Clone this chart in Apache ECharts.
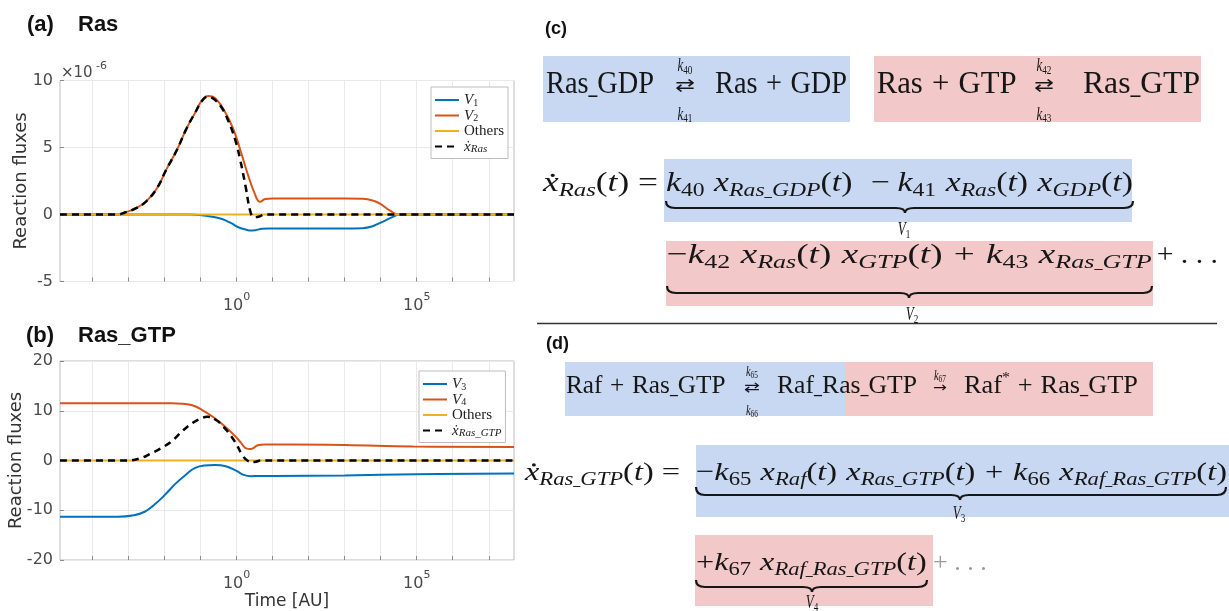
<!DOCTYPE html>
<html><head><meta charset="utf-8">
<script src="https://cdn.jsdelivr.net/npm/echarts@6/dist/echarts.min.js"></script>
<style>html,body{margin:0;padding:0;background:#fff}#c{width:1229px;height:611px}</style>
</head><body><div id="c"></div>
<script>
// ================= DATA (time given as log10 of Time [AU]) =================
const LOG_T_MIN = -4.9, LOG_T_MAX = 7.7;
const DECADES = [-4, -3, -2, -1, 0, 1, 2, 3, 4, 5, 6, 7];
const LABELED_DECADES = [0, 5];

// Panel (a) Ras, values in units of 1e-6
const A_T_V1 = [-4.9, -1.3, -0.9, -0.6, -0.4, -0.15, 0.05, 0.25, 0.4, 0.55, 0.7, 0.9, 2.0, 3.0, 3.5, 3.75, 4.0, 4.2, 4.35, 4.5, 7.7];
const A_V1   = [0, 0, -0.07, -0.2, -0.34, -0.65, -0.95, -1.12, -1.2, -1.15, -1.07, -1.04, -1.04, -1.04, -1.02, -0.9, -0.6, -0.35, -0.16, 0, 0];
const A_T_V2 = [-4.9, -3.3, -3.1, -2.8, -2.5, -2.2, -1.95, -1.65, -1.4, -1.15, -0.95, -0.78, -0.6, -0.35, -0.1, 0.1, 0.3, 0.5, 0.65, 0.8, 1.0, 2.0, 3.0, 3.5, 3.8, 4.0, 4.25, 4.5, 7.7];
const A_V2   = [0, 0, 0.15, 0.45, 1.0, 2.0, 3.35, 4.85, 6.35, 7.6, 8.55, 8.85, 8.7, 7.8, 6.45, 4.85, 3.1, 1.6, 0.95, 1.15, 1.2, 1.2, 1.2, 1.18, 1.03, 0.78, 0.3, 0.0, 0];
const A_T_OTH = [-4.9, 0, 7.7];
const A_OTH   = [0, 0, 0];
const A_T_X  = [-4.9, -3.3, -3.1, -2.8, -2.5, -2.2, -1.95, -1.65, -1.4, -1.15, -0.95, -0.8, -0.62, -0.42, -0.23, -0.04, 0.1, 0.25, 0.39, 0.48, 0.63, 0.77, 7.7];
const A_X    = [0, 0, 0.15, 0.45, 1.0, 2.0, 3.35, 4.85, 6.35, 7.6, 8.5, 8.8, 8.6, 8.0, 7.0, 5.6, 4.1, 2.1, 0.15, -0.2, -0.15, 0, 0];

// Panel (b) Ras_GTP
const B_T_V3 = [-4.9, -3.3, -2.85, -2.55, -2.3, -2.0, -1.7, -1.4, -1.15, -0.9, -0.6, -0.3, 0.0, 0.2, 0.4, 0.6, 1.0, 3.0, 5.0, 7.7];
const B_V3   = [-11.3, -11.3, -11.0, -10.3, -9.0, -7.0, -4.7, -2.8, -1.5, -1.0, -0.9, -1.15, -2.1, -2.9, -3.15, -3.1, -3.1, -3.0, -2.75, -2.6];
const B_T_V4 = [-4.9, -1.8, -1.5, -1.23, -0.94, -0.66, -0.37, -0.08, 0.11, 0.25, 0.4, 0.59, 0.78, 1.5, 3.0, 4.9, 7.7];
const B_V4   = [11.5, 11.5, 11.4, 11.1, 10.1, 8.8, 7.15, 5.2, 3.7, 2.5, 2.3, 3.05, 3.2, 3.2, 3.1, 2.8, 2.7];
const B_T_OTH = [-4.9, 0, 7.7];
const B_OTH   = [0, 0, 0];
const B_T_X  = [-4.9, -3.05, -2.67, -2.38, -2.09, -1.8, -1.52, -1.23, -0.94, -0.82, -0.56, -0.37, -0.18, 0.01, 0.16, 0.3, 0.49, 0.68, 7.7];
const B_X    = [0, 0, 0.45, 1.4, 2.5, 3.85, 5.8, 7.5, 8.6, 8.8, 8.1, 6.8, 5.2, 3.1, 1.1, 0, -0.3, 0, 0];

const LEGEND_A = ['V1', 'V2', 'Others_a', 'xRas'];
const LEGEND_B = ['V3', 'V4', 'Others_b', 'xRasGTP'];
const LEGEND_TEXT = {
  V1: '{i|V}{n|1}', V2: '{i|V}{n|2}', V3: '{i|V}{n|3}', V4: '{i|V}{n|4}',
  Others_a: '{r|Others}', Others_b: '{r|Others}',
  xRas: '{i|ẋ}{s|Ras}', xRasGTP: '{i|ẋ}{s|Ras_GTP}'
};

// ================= STYLE / LAYOUT =================
const SANS = "'DejaVu Sans', sans-serif";
const SERIF = "'Liberation Serif', 'DejaVu Serif', serif";
const ARROWF = "'DejaVu Sans', sans-serif";
const INK = '#161616';
const C_BLUE = '#0072BD', C_ORANGE = '#D95319', C_YELLOW = '#EDB120';
const BOX_BLUE = '#c8d8f3', BOX_PINK = '#f3c8c8';
const SY = 1.38;

const zip = (t, v) => t.map((x, i) => [x, v[i]]);

const mctx = document.createElement('canvas').getContext('2d');
function fnt(size, it, fam) { return (it ? 'italic ' : 'normal ') + size.toFixed(2) + 'px ' + (fam || SERIF); }
function wid(text, size, it, fam) { mctx.font = fnt(size, it, fam); return mctx.measureText(text).width; }
function txt(text, x, base, size, it, opts) {
  opts = opts || {};
  const el = { type: 'text', x: x, y: base - 0.34 * size, silent: true,
    style: { text: text, font: fnt(size, it, opts.fam), fill: opts.color || INK,
      textAlign: opts.align || 'left', textVerticalAlign: 'middle' } };
  if (opts.sx) el.scaleX = opts.sx;
  if (opts.sy) el.scaleY = opts.sy;
  return el;
}
// text with narrow (TeX-like) underscores; returns advance
function putStr(kids, text, x, base, size, it, color) {
  const parts = text.split('_'); let adv = 0;
  parts.forEach((p, i) => {
    if (p) { kids.push(txt(p, x + adv, base, size, it, { color: color })); adv += wid(p, size, it); }
    if (i < parts.length - 1) {
      kids.push(txt('_', x + adv, base, size, false, { color: color, sx: 0.62 }));
      adv += 0.62 * wid('_', size, false);
    }
  });
  return adv;
}
function layout(tokens, S) {
  const kids = []; let x = 0;
  tokens.forEach(tk => {
    const k = tk[0], a = tk[1];
    if (k === 'g') { x += a * S; return; }
    if (k === 'rm' || k === 'it') { x += putStr(kids, a, x, 0, S, k === 'it', tk[2]); return; }
    if (k === 'sb' || k === 'si') { x += putStr(kids, a, x, 0.18 * S, 0.7 * S, k === 'si'); return; }
    if (k === 'sup') { const s = 0.6 * S; kids.push(txt(a, x, -0.45 * S, s, false)); x += wid(a, s, false); return; }
    if (k === 'dx') {
      const w = wid('x', S, true);
      kids.push(txt('x', x, 0, S, true));
      kids.push({ type: 'circle', silent: true, shape: { cx: x + 0.62 * w, cy: -0.64 * S, r: 0.06 * S }, style: { fill: INK } });
      x += w; return;
    }
    if (k === 'lr' || k === 'ra') {
      const w = (k === 'lr' ? 1.0 : 0.85) * S, cx = x + w / 2, as = 0.9 * S;
      kids.push({ type: 'text', x: cx, y: -0.28 * S, silent: true, scaleX: k === 'lr' ? 1.15 : 1.0, scaleY: 0.62,
        style: { text: k === 'lr' ? '⇄' : '→', font: fnt(as, false, ARROWF), fill: INK, textAlign: 'center', textVerticalAlign: 'middle' } });
      const ks = 0.56 * S, ds = 0.4 * S;
      const lab = (num, base) => {
        const wk = wid('k', ks, true), wd = wid(num, ds, false), x0 = cx - (wk + wd) / 2;
        kids.push(txt('k', x0, base, ks, true));
        kids.push(txt(num, x0 + wk, base + 0.07 * S, ds, false));
      };
      if (k === 'lr') { lab(tk[1], -0.7 * S); lab(tk[2], 0.82 * S); } else { lab(tk[1], -0.55 * S); }
      x += w; return;
    }
  });
  return { kids: kids, w: x };
}
function placeLine(tokens, S, x0, x1, base) {
  const L = layout(tokens, S);
  return { type: 'group', x: x0, y: base, scaleX: (x1 - x0) / L.w, scaleY: SY, children: L.kids };
}
function placeCentered(tokens, S, cx, base) {
  const L = layout(tokens, S);
  return { type: 'group', x: cx - L.w / 2, y: base, scaleX: 1, scaleY: SY, children: L.kids };
}
function brace(xa, xb, xm, y0, y1, y2) {
  const r = 9, st = { stroke: INK, lineWidth: 2.2, fill: null };
  return [
    { type: 'bezierCurve', silent: true, shape: { x1: xa, y1: y0, cpx1: xa, cpy1: y1, x2: xa + r, y2: y1 }, style: st },
    { type: 'line', silent: true, shape: { x1: xa + r, y1: y1, x2: xm - r, y2: y1 }, style: st },
    { type: 'bezierCurve', silent: true, shape: { x1: xm - r, y1: y1, cpx1: xm, cpy1: y1, x2: xm, y2: y2 }, style: st },
    { type: 'bezierCurve', silent: true, shape: { x1: xm, y1: y2, cpx1: xm, cpy1: y1, x2: xm + r, y2: y1 }, style: st },
    { type: 'line', silent: true, shape: { x1: xm + r, y1: y1, x2: xb - r, y2: y1 }, style: st },
    { type: 'bezierCurve', silent: true, shape: { x1: xb - r, y1: y1, cpx1: xb, cpy1: y1, x2: xb, y2: y0 }, style: st }
  ];
}
function title(text, x, cy, size) {
  return { type: 'text', x: x, y: cy, silent: true,
    style: { text: text, font: 'bold ' + size + "px 'Liberation Sans', Arial, sans-serif", fill: '#111', textAlign: 'left', textVerticalAlign: 'middle' } };
}
function rect(x, y, w, h, c) { return { type: 'rect', silent: true, shape: { x: x, y: y, width: w, height: h }, style: { fill: c } }; }

const tt = [['rm', '('], ['it', 't'], ['rm', ')']];
const C2L = [['dx'], ['si', 'Ras'], ...tt, ['rm', ' =']];
const C2R = [['it', 'k'], ['sb', '40'], ['g', 0.28], ['it', 'x'], ['si', 'Ras_GDP'], ...tt, ['g', 0.55], ['rm', '−'], ['g', 0.22],
  ['it', 'k'], ['sb', '41'], ['g', 0.28], ['it', 'x'], ['si', 'Ras'], ...tt, ['g', 0.28], ['it', 'x'], ['si', 'GDP'], ...tt];
const C3R = [['rm', '−'], ['it', 'k'], ['sb', '42'], ['g', 0.28], ['it', 'x'], ['si', 'Ras'], ...tt, ['g', 0.28], ['it', 'x'], ['si', 'GTP'],
  ['rm', '('], ['it', 't'], ['rm', ')'], ['g', 0.3], ['rm', '+'], ['g', 0.3], ['it', 'k'], ['sb', '43'], ['g', 0.28], ['it', 'x'], ['si', 'Ras_GTP']];
const D2L = [['dx'], ['si', 'Ras_GTP'], ...tt, ['rm', ' =']];
const D2R = [['rm', '−'], ['it', 'k'], ['sb', '65'], ['g', 0.28], ['it', 'x'], ['si', 'Raf'], ...tt, ['g', 0.28], ['it', 'x'], ['si', 'Ras_GTP'],
  ['rm', '('], ['it', 't'], ['rm', ')'], ['g', 0.3], ['rm', '+'], ['g', 0.3], ['it', 'k'], ['sb', '66'], ['g', 0.28], ['it', 'x'], ['si', 'Raf_Ras_GTP'], ...tt];
const D3R = [['rm', '+'], ['it', 'k'], ['sb', '67'], ['g', 0.28], ['it', 'x'], ['si', 'Raf_Ras_GTP'], ...tt];
const PLUS = (a, b) => [['rm', a], ['g', 0.3], ['rm', '+'], ['g', 0.3], ['rm', b]];

const graphics = [
  rect(543, 56, 307, 66, BOX_BLUE), rect(874, 56, 327, 66, BOX_PINK),
  rect(664, 159, 468, 63, BOX_BLUE), rect(666, 241, 487, 65, BOX_PINK),
  rect(565, 362, 280, 54, BOX_BLUE), rect(845, 362, 308, 54, BOX_PINK),
  rect(696, 445, 533, 72, BOX_BLUE), rect(695, 535, 238, 71, BOX_PINK),
  title('(a)', 27, 25, 22), title('Ras', 78, 25, 22),
  title('(b)', 26, 336, 22), title('Ras_GTP', 78, 336, 22),
  title('(c)', 545, 29, 18), title('(d)', 546, 344, 18),
  { type: 'line', silent: true, shape: { x1: 537, y1: 323.5, x2: 1217, y2: 323.5 }, style: { stroke: '#333', lineWidth: 1.5 } },
  { type: 'text', x: 61, y: 73, silent: true, style: { text: '×10', font: '15px ' + SANS, fill: '#4a4a4a', textAlign: 'left', textVerticalAlign: 'middle' } },
  { type: 'text', x: 96, y: 66, silent: true, style: { text: '-6', font: '11px ' + SANS, fill: '#4a4a4a', textAlign: 'left', textVerticalAlign: 'middle' } },
  // (c) reactions
  placeLine([['rm', 'Ras_GDP']], 23, 546, 654, 95),
  placeCentered([['lr', '40', '41']], 23, 685, 95),
  placeLine(PLUS('Ras', 'GDP'), 23, 715, 847, 95),
  placeLine(PLUS('Ras', 'GTP'), 23, 876.7, 1016.5, 95),
  placeCentered([['lr', '42', '43']], 23, 1044, 95),
  placeLine([['rm', 'Ras_GTP']], 23, 1083, 1200, 95),
  // (c) ODE
  placeLine(C2L, 20, 543, 658, 193),
  placeLine(C2R, 20, 666, 1133, 193),
  placeLine(C3R, 20, 666.7, 1151.7, 265),
  placeLine([['rm', '+ . . .']], 20, 1156.7, 1218, 265),
  // (d) reactions
  placeLine(PLUS('Raf', 'Ras_GTP'), 18.5, 566, 725.5, 395),
  placeCentered([['lr', '65', '66']], 18.5, 752, 395),
  placeLine([['rm', 'Raf_Ras_GTP']], 18.5, 777, 917, 395),
  placeCentered([['ra', '67']], 18.5, 940, 395),
  placeLine([['rm', 'Raf'], ['sup', '*'], ['g', 0.3], ['rm', '+'], ['g', 0.3], ['rm', 'Ras_GTP']], 18.5, 964, 1138, 395),
  // (d) ODE
  placeLine(D2L, 19, 525, 680, 481.7),
  placeLine(D2R, 19, 696, 1227, 481.7),
  placeLine(D3R, 19, 696, 926.7, 572),
  placeLine([['rm', '+ . . .', '#9a9a9a']], 19, 933, 986.7, 572),
  ...brace(666, 1133, 905, 201, 208, 213),
  ...brace(667, 1152, 909, 286, 293, 298),
  ...brace(696, 1226, 960, 487, 495, 500),
  ...brace(696, 927, 812, 580, 587, 592),
  placeCentered([['it', 'V'], ['sb', '1']], 13, 904, 236),
  placeCentered([['it', 'V'], ['sb', '2']], 13, 912, 321),
  placeCentered([['it', 'V'], ['sb', '3']], 13, 959, 520),
  placeCentered([['it', 'V'], ['sb', '4']], 13, 812, 609)
];

const TICK_TXT = '#4a4a4a';
function xAxisCfg(gi, withName) {
  return {
    type: 'value', gridIndex: gi, min: LOG_T_MIN, max: LOG_T_MAX,
    axisLine: { show: false, onZero: false },
    axisTick: { show: true, inside: true, length: 4, customValues: DECADES, lineStyle: { color: '#8a8a8a' } },
    splitLine: { show: true, lineStyle: { color: '#e9e9e9', width: 1 } },
    axisLabel: {
      customValues: LABELED_DECADES, margin: 10,
      formatter: v => '{b|10}{s|' + v + '}',
      rich: {
        b: { fontFamily: SANS, fontSize: 16, color: TICK_TXT, lineHeight: 22, verticalAlign: 'bottom' },
        s: { fontFamily: SANS, fontSize: 11, color: TICK_TXT, lineHeight: 12, verticalAlign: 'top' }
      }
    },
    name: withName ? 'Time [AU]' : '', nameLocation: 'middle', nameGap: 33, nameMoveOverlap: false,
    nameTextStyle: { fontFamily: SANS, fontSize: 17, color: '#333' }
  };
}
function yAxisCfg(gi, mn, mx, step, gap) {
  return {
    type: 'value', gridIndex: gi, min: mn, max: mx, interval: step,
    axisLine: { show: false, onZero: false },
    axisTick: { show: true, inside: true, length: 4, lineStyle: { color: '#8a8a8a' } },
    splitLine: { show: true, lineStyle: { color: '#e9e9e9', width: 1 } },
    axisLabel: { margin: 7, fontFamily: SANS, fontSize: 16, color: TICK_TXT },
    name: 'Reaction fluxes', nameLocation: 'middle', nameGap: gap, nameMoveOverlap: false,
    nameTextStyle: { fontFamily: SANS, fontSize: 18, color: '#333' }
  };
}
const legendRich = {
  i: { fontFamily: SERIF, fontStyle: 'italic', fontSize: 15, color: '#222', lineHeight: 16, verticalAlign: 'bottom' },
  s: { fontFamily: SERIF, fontStyle: 'italic', fontSize: 11, color: '#222', lineHeight: 8, verticalAlign: 'bottom' },
  n: { fontFamily: SERIF, fontSize: 10, color: '#222', lineHeight: 8, verticalAlign: 'bottom' },
  r: { fontFamily: SERIF, fontSize: 15, color: '#222', lineHeight: 16, verticalAlign: 'bottom' }
};
function legendCfg(names, left, top) {
  return {
    data: names, left: left, top: top, orient: 'vertical', itemGap: 0.5, itemWidth: 24, itemHeight: 14,
    padding: [6, 4, 4, 3], borderColor: '#bdbdbd', borderWidth: 1, backgroundColor: '#fff',
    itemStyle: { opacity: 0 }, selectedMode: false,
    formatter: n => LEGEND_TEXT[n], textStyle: { rich: legendRich }
  };
}
function line(name, xi, t, v, color, dashed) {
  return {
    type: 'line', name: name, xAxisIndex: xi, yAxisIndex: xi, data: zip(t, v),
    symbol: 'none', showSymbol: false, smooth: 0.45,
    lineStyle: { color: color, width: dashed ? 2.5 : 2, type: dashed ? [7, 5] : 'solid' },
    itemStyle: { color: color }, z: dashed ? 5 : 3
  };
}

const chart = echarts.init(document.getElementById('c'), null, { renderer: 'canvas' });
chart.setOption({
  animation: false,
  backgroundColor: '#fff',
  grid: [
    { left: 60, top: 80.5, width: 454, height: 201, show: true, borderColor: '#bdbdbd', borderWidth: 1 },
    { left: 60, top: 361, width: 454, height: 203, show: true, borderColor: '#bdbdbd', borderWidth: 1 }
  ],
  xAxis: [xAxisCfg(0, false), xAxisCfg(1, true)],
  yAxis: [yAxisCfg(0, -5, 10, 5, 30), yAxisCfg(1, -20, 20, 10, 35)],
  legend: [legendCfg(LEGEND_A, 431, 87), legendCfg(LEGEND_B, 419, 371)],
  series: [
    line('V1', 0, A_T_V1, A_V1, C_BLUE),
    line('V2', 0, A_T_V2, A_V2, C_ORANGE),
    line('Others_a', 0, A_T_OTH, A_OTH, C_YELLOW),
    line('xRas', 0, A_T_X, A_X, '#000', true),
    line('V3', 1, B_T_V3, B_V3, C_BLUE),
    line('V4', 1, B_T_V4, B_V4, C_ORANGE),
    line('Others_b', 1, B_T_OTH, B_OTH, C_YELLOW),
    line('xRasGTP', 1, B_T_X, B_X, '#000', true)
  ],
  graphic: { elements: graphics }
});
</script></body></html>
